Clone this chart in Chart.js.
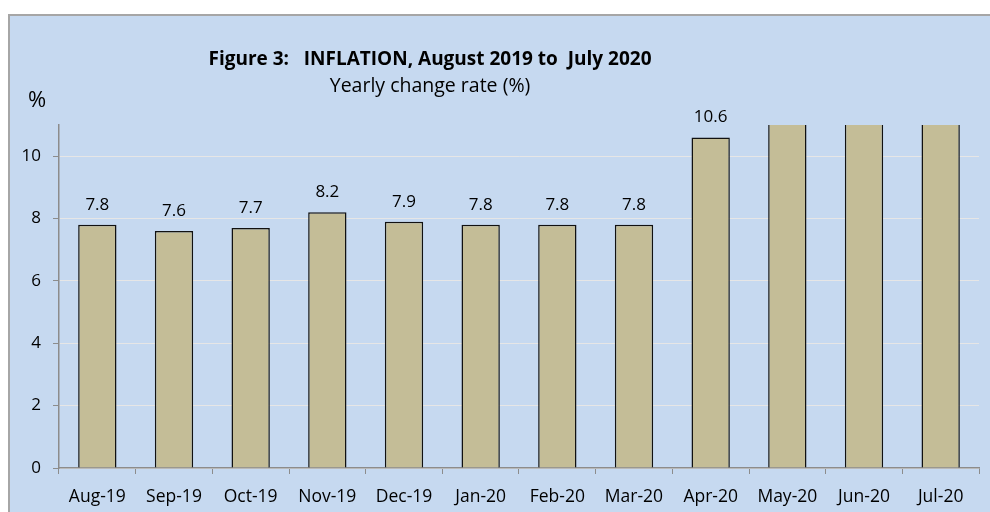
<!DOCTYPE html>
<html lang="en">
<head>
    <meta charset="UTF-8">
    <title>Inflation, August 2019 to July 2020</title>
    <script src="https://cdn.jsdelivr.net/npm/chart.js"></script>
    <style>
        body {
            margin: 0;
            background: #ffffff;
            overflow: hidden;
        }

        #frame {
            position: absolute;
            left: 8px;
            top: 14px;
            width: 980px;
            height: 496px;
            border-left: 2px solid #a6a6a6;
            border-top: 2px solid #a6a6a6;
            background: #c6d9f0;
        }

        canvas {
            display: block;
        }
    </style>
</head>
<body>

<div id="frame">
    <canvas id="inflationChart" width="980" height="496"></canvas>
</div>

<script>
    const months = ['Aug-19', 'Sep-19', 'Oct-19', 'Nov-19', 'Dec-19', 'Jan-20',
                    'Feb-20', 'Mar-20', 'Apr-20', 'May-20', 'Jun-20', 'Jul-20'];
    // last three bars run past the top of the axis in the source
    const inflation = [7.8, 7.6, 7.7, 8.2, 7.9, 7.8, 7.8, 7.8, 10.6, 11.7, 12.5, 12.0];
    const yTicks = [0, 2, 4, 6, 8, 10];
    const yMax = 11;

    const FONT = "'Open Sans', sans-serif";

    // titles, the % unit and the value labels above the bars
    const textPlugin = {
        id: 'chartText',
        afterDatasetsDraw(chart) {
            const ctx = chart.ctx;
            ctx.save();
            ctx.fillStyle = '#000';
            ctx.textAlign = 'center';
            ctx.textBaseline = 'alphabetic';

            ctx.font = "bold 19px " + FONT;
            ctx.fillText('Figure 3:   INFLATION, August 2019 to  July 2020', 420, 49);
            ctx.font = "19.5px " + FONT;
            ctx.fillText('Yearly change rate (%)', 420, 76);
            ctx.font = "22px " + FONT;
            ctx.fillText('%', 27, 91);

            ctx.font = "17px " + FONT;
            const meta = chart.getDatasetMeta(0);
            meta.data.forEach((bar, i) => {
                if (inflation[i] > yMax) return;
                ctx.fillText(inflation[i].toFixed(1), bar.x, bar.y - 15);
            });
            ctx.restore();
        }
    };

    new Chart(document.getElementById('inflationChart'), {
        type: 'bar',
        data: {
            labels: months,
            datasets: [{
                data: inflation,
                backgroundColor: '#c4bd97',
                borderColor: '#111111',
                borderWidth: 1.5,
                barPercentage: 0.5,
                categoryPercentage: 1.0
            }]
        },
        options: {
            responsive: false,
            animation: false,
            layout: {
                padding: { left: 0, right: 11, top: 109, bottom: 0 }
            },
            plugins: {
                legend: { display: false },
                tooltip: { enabled: false }
            },
            scales: {
                x: {
                    afterFit: (s) => { s.height = 44; },
                    grid: {
                        offset: true,
                        drawOnChartArea: false,
                        tickLength: 6,
                        tickColor: '#8c8c8c'
                    },
                    border: { color: '#8c8c8c', width: 1.5 },
                    ticks: {
                        color: '#000',
                        padding: 13,
                        maxRotation: 0,
                        font: { family: FONT, size: 17.5 }
                    }
                },
                y: {
                    min: 0,
                    max: yMax,
                    afterFit: (s) => { s.width = 49; },
                    afterBuildTicks: (s) => {
                        s.ticks = yTicks.map(v => ({ value: v }));
                    },
                    grid: {
                        color: '#e6e6e6',
                        tickLength: 6,
                        tickColor: '#8c8c8c'
                    },
                    border: { color: '#8c8c8c', width: 1.5 },
                    ticks: {
                        color: '#000',
                        padding: 12,
                        font: { family: FONT, size: 17 }
                    }
                }
            }
        },
        plugins: [textPlugin]
    });
</script>

</body>
</html>
